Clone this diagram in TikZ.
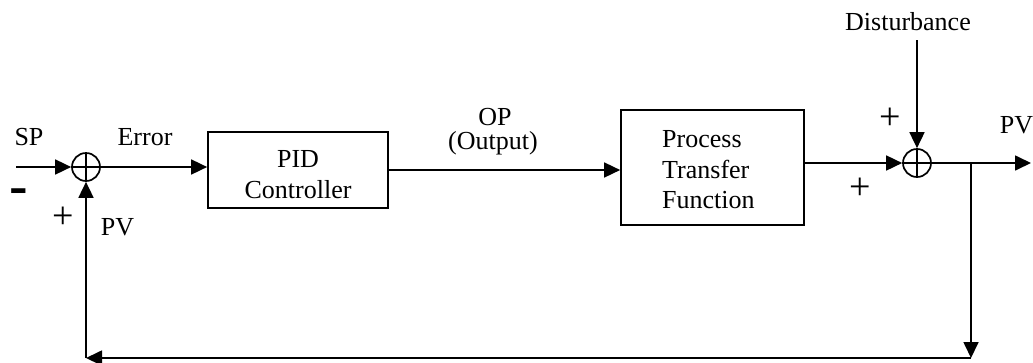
\documentclass[tikz,border=0pt]{standalone}
\usepackage{fontspec}
\setmainfont{Liberation Serif}
\newfontfamily\signfont{Liberation Sans}
\usetikzlibrary{arrows.meta}
\tikzset{
  lw/.style={line width=1.7pt},
  arr/.style={lw,-{Triangle[length=16pt,width=15pt]}},
  blockbox/.style={draw,lw,rectangle,inner sep=0pt},
  sumnode/.style={draw,lw,circle,minimum size=28pt,inner sep=0pt,
    path picture={\draw[lw] (path picture bounding box.north) -- (path picture bounding box.south)
      (path picture bounding box.west) -- (path picture bounding box.east);}},
  lbl/.style={inner sep=0pt,font=\fontsize{26}{31}\selectfont,anchor=base},
  sgn/.style={inner sep=0pt,font=\fontsize{38}{38}\selectfont},
}
\begin{document}
\begin{tikzpicture}[x=1pt,y=-1pt]
\useasboundingbox (0,0) rectangle (1033,362);
% nodes
\node[sumnode] (sum1) at (86,167) {};
\node[sumnode] (sum2) at (917,163) {};
\node[blockbox,minimum width=180pt,minimum height=76pt] (pid) at (298,170) {};
\node[blockbox,minimum width=183pt,minimum height=115pt] (proc) at (712.5,167.5) {};
\coordinate (sp) at (16,167);
\coordinate (dist) at (917,40);
\coordinate (out) at (1031,163);
\coordinate (branch) at (971,163);
\coordinate (c1) at (971,358);
\coordinate (c2) at (86,358);
% labels
\node[lbl] (tsp) at (29,145) {SP};
\node[lbl] (terr) at (145,145) {Error};
\node[lbl] (tpid) at (298,167) {PID};
\node[lbl] (tctl) at (298,198) {Controller};
\node[lbl] (top) at (495,125) {OP};
\node[lbl] (tout) at (493,149) {(Output)};
\node[lbl,anchor=base west] (tp1) at (662,147) {Process};
\node[lbl,anchor=base west] (tp2) at (662,178) {Transfer};
\node[lbl,anchor=base west] (tp3) at (662,208) {Function};
\node[lbl] (tdist) at (908,30) {Disturbance};
\node[lbl] (tpvr) at (1016.5,133) {PV};
\node[lbl] (tpvl) at (117.5,235) {PV};
\node[sgn] (plus1) at (890,119) {+};
\node[sgn] (plus2) at (860,189) {+};
\node[sgn] (plus3) at (63,218) {+};
\node[inner sep=0pt,font=\signfont\bfseries\fontsize{40}{40}\selectfont] (minus) at (19,195.5) {\scalebox{1.4}[1]{-}};
% connectors
\draw[arr] (sp) -- (sum1.west);
\draw[arr] (sum1.east) -- (sum1 -| pid.west);
\draw[arr] (pid.east) -- (pid.east -| proc.west);
\draw[arr] (proc.east |- sum2) -- (sum2.west);
\draw[arr] (dist) -- (sum2.north);
\draw[arr] (sum2.east) -- (out);
\draw[arr] (branch) -- (c1);
\draw[arr] (c1) -- (c2);
\draw[arr] (c2) -- (sum1.south);
\end{tikzpicture}
\end{document}
